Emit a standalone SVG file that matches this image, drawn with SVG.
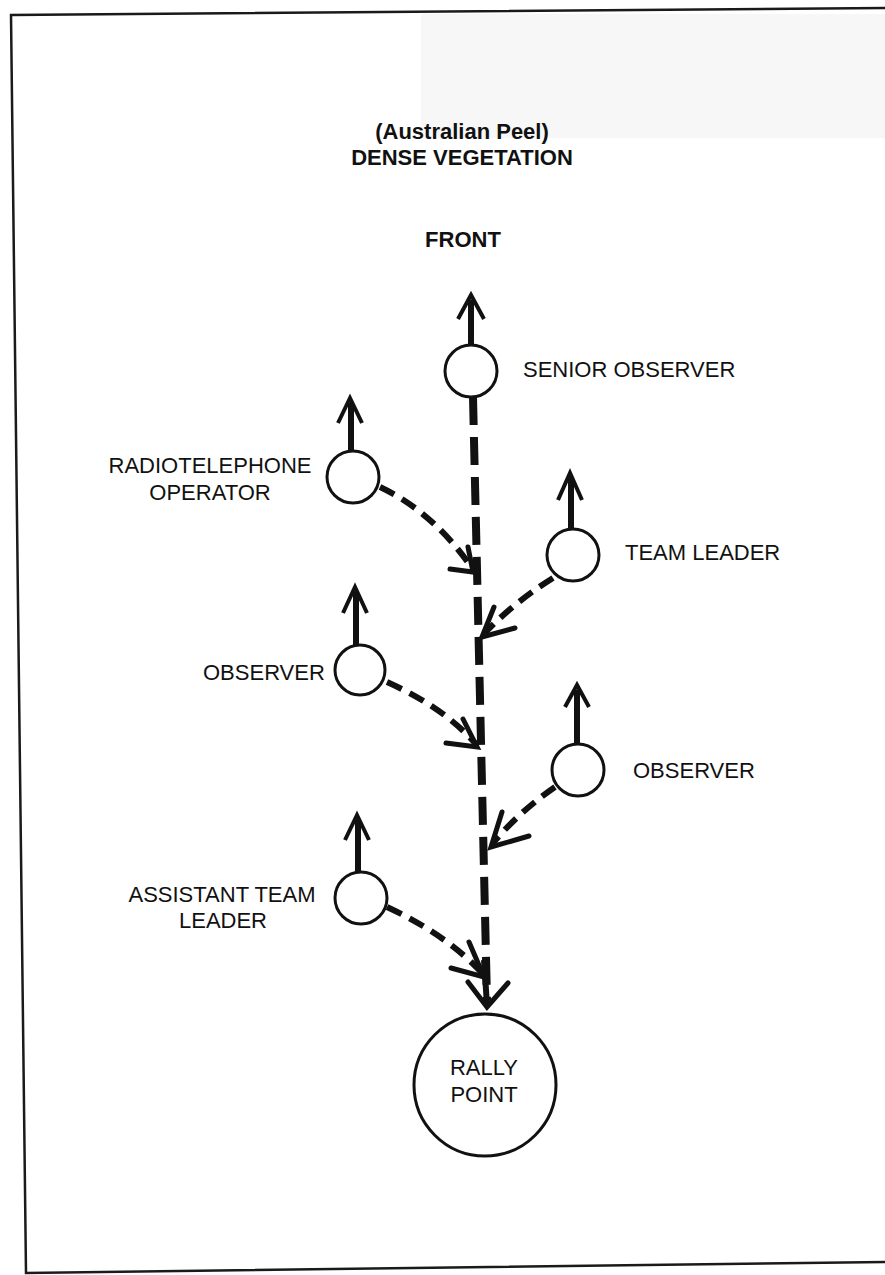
<svg xmlns="http://www.w3.org/2000/svg" width="885" height="1275" viewBox="0 0 885 1275">
<style>
.frame{fill:none;stroke:#1a1a1a;stroke-width:2.5}
.t{font-family:"Liberation Sans",Arial,sans-serif;font-size:22px;fill:#111}
.b{font-weight:bold}
.node{fill:#fff;stroke:#111;stroke-width:3}
.stem{stroke:#111;stroke-width:6;fill:none}
.up{stroke:#111;stroke-width:4;fill:none;stroke-linejoin:miter}
.trunk{stroke:#111;stroke-width:8;fill:none;stroke-dasharray:28 12}
.conn{stroke:#111;stroke-width:6;fill:none;stroke-dasharray:16 9}
.head{stroke:#111;stroke-width:5;fill:none;stroke-linecap:round;stroke-linejoin:miter}
</style>
<rect x="0" y="0" width="885" height="1275" fill="#fff"/>
<rect x="421" y="14" width="464" height="124" fill="#f7f7f7"/>
<path class="frame" d="M885,8 L11,15 L26,1273 L885,1262"/>

<g id="titles">
<text class="t b" x="462" y="139" text-anchor="middle">(Australian Peel)</text>
<text class="t b" x="462" y="165" text-anchor="middle">DENSE VEGETATION</text>
<text class="t b" x="463" y="247" text-anchor="middle">FRONT</text>
</g>

<g id="connectors">
<path class="trunk" d="M473,397 L487,1000"/>
<path class="stem" d="M484,960 L487,1005"/>
<path class="head" d="M468,982 L487,1007 L508,983"/>
<path class="conn" d="M380,487 Q433,512 472,568"/>
<path class="head" d="M468,547 L473,572 L450,569"/>
<path class="conn" d="M553,578 Q513,603 484,634"/>
<path class="head" d="M494,607 L482,637 L515,628"/>
<path class="conn" d="M387,682 Q443,707 475,743"/>
<path class="head" d="M463,719 L477,747 L446,743"/>
<path class="conn" d="M555,787 Q519,812 493,843"/>
<path class="head" d="M502,812 L491,847 L529,836"/>
<path class="conn" d="M387,907 Q447,935 482,973"/>
<path class="head" d="M469,942 L484,977 L451,968"/>
</g>

<g id="senior-observer">
<path class="stem" d="M471,345 V300"/>
<path class="up" d="M458,319 L471,295 L484,319"/>
<circle class="node" cx="471" cy="371" r="26"/>
<text class="t" x="523" y="377">SENIOR OBSERVER</text>
</g>

<g id="radiotelephone-operator">
<path class="stem" d="M351,451 V403"/>
<path class="up" d="M338,423 L350,398 L362,423"/>
<circle class="node" cx="353" cy="477" r="26"/>
<text class="t" x="210" y="473" text-anchor="middle">RADIOTELEPHONE</text>
<text class="t" x="210" y="500" text-anchor="middle">OPERATOR</text>
</g>

<g id="team-leader">
<path class="stem" d="M571,529 V478"/>
<path class="up" d="M558,500 L570,473 L582,500"/>
<circle class="node" cx="573" cy="555" r="26"/>
<text class="t" x="625" y="560">TEAM LEADER</text>
</g>

<g id="observer-left">
<path class="stem" d="M356,645 V592"/>
<path class="up" d="M343,613 L355,587 L367,613"/>
<circle class="node" cx="360" cy="670" r="25"/>
<text class="t" x="203" y="680">OBSERVER</text>
</g>

<g id="observer-right">
<path class="stem" d="M577,744 V690"/>
<path class="up" d="M565,707 L577,685 L589,707"/>
<circle class="node" cx="578" cy="770" r="26"/>
<text class="t" x="633" y="778">OBSERVER</text>
</g>

<g id="assistant-team-leader">
<path class="stem" d="M358,872 V820"/>
<path class="up" d="M345,840 L357,815 L369,840"/>
<circle class="node" cx="361" cy="898" r="26"/>
<text class="t" x="222" y="902" text-anchor="middle">ASSISTANT TEAM</text>
<text class="t" x="223" y="928" text-anchor="middle">LEADER</text>
</g>

<g id="rally-point">
<circle class="node" cx="485" cy="1085" r="71"/>
<text class="t" x="484" y="1075" text-anchor="middle">RALLY</text>
<text class="t" x="484" y="1102" text-anchor="middle">POINT</text>
</g>
</svg>
